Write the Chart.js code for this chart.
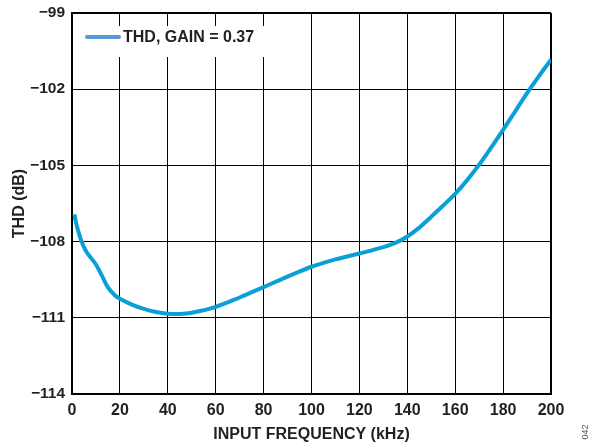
<!DOCTYPE html>
<html>
<head>
<meta charset="utf-8">
<script src="https://cdn.jsdelivr.net/npm/chart.js@4.4.0/dist/chart.umd.min.js"></script>
<style>
html,body{margin:0;padding:0;background:#fff;}
#wrap{width:592px;height:446px;position:relative;}
</style>
</head>
<body>
<div id="wrap"><canvas id="c" width="592" height="446"></canvas></div>
<script>
const freqKHz = [1, 2, 4, 6, 8, 10, 12, 15, 18, 20, 25, 30, 35, 40, 45, 50, 60, 70, 80, 90, 100, 110, 120, 130, 135, 140, 145, 150, 155, 160, 165, 170, 175, 180, 185, 190, 195, 200];
const thdDb = [-106.93, -107.38, -108.0, -108.4, -108.65, -108.9, -109.25, -109.8, -110.12, -110.25, -110.48, -110.65, -110.77, -110.84, -110.85, -110.8, -110.57, -110.2, -109.79, -109.38, -108.99, -108.7, -108.47, -108.22, -108.05, -107.8, -107.45, -107.02, -106.58, -106.12, -105.58, -104.97, -104.3, -103.6, -102.88, -102.15, -101.48, -100.84];
const seriesLabel = 'THD, GAIN = 0.37';
const xTitle = 'INPUT FREQUENCY (kHz)';
const yTitle = 'THD (dB)';
const figureId = '042';

const FONT = '"Liberation Sans", Arial, sans-serif';
const lineColor = '#0B9FD8';
const legendColor = '#5A9BD5';

const legendPlugin = {
  id: 'boxLegend',
  afterDraw(chart) {
    const ctx = chart.ctx;
    const a = chart.chartArea;
    ctx.save();
    ctx.fillStyle = '#fff';
    ctx.fillRect(a.left + 7, a.top + 13, 192, 31);
    ctx.strokeStyle = legendColor;
    ctx.lineWidth = 4;
    ctx.lineCap = 'round';
    ctx.beginPath();
    ctx.moveTo(a.left + 15, a.top + 24);
    ctx.lineTo(a.left + 47, a.top + 24);
    ctx.stroke();
    ctx.fillStyle = '#231f20';
    ctx.font = 'bold 16px ' + FONT;
    ctx.textBaseline = 'middle';
    ctx.textAlign = 'left';
    ctx.fillText(seriesLabel, a.left + 51, a.top + 25);
    ctx.translate(586, 432);
    ctx.rotate(-Math.PI / 2);
    ctx.font = '9px ' + FONT;
    ctx.fillStyle = '#555';
    ctx.textAlign = 'center';
    ctx.textBaseline = 'middle';
    ctx.fillText(figureId, 0, 0);
    ctx.restore();
  }
};

new Chart(document.getElementById('c'), {
  type: 'line',
  data: {
    datasets: [{
      label: seriesLabel,
      data: freqKHz.map((f, i) => ({x: f, y: thdDb[i]})),
      borderColor: lineColor,
      backgroundColor: lineColor,
      borderWidth: 4,
      pointRadius: 0,
      tension: 0.35,
      fill: false
    }]
  },
  options: {
    responsive: false,
    animation: false,
    devicePixelRatio: 1,
    layout: {padding: {top: 13, right: 41, left: 6, bottom: 0}},
    plugins: {legend: {display: false}, tooltip: {enabled: false}},
    scales: {
      x: {
        type: 'linear',
        min: 0, max: 200,
        ticks: {stepSize: 20, color: '#231f20', font: {family: FONT, size: 16, weight: 'bold'}, padding: 7, maxRotation: 0},
        grid: {color: '#000', lineWidth: (c) => (c.tick && c.tick.value === 200 ? 2 : 1), drawTicks: false},
        border: {color: '#000', width: 2},
        title: {display: true, text: xTitle, color: '#231f20', font: {family: FONT, size: 16, weight: 'bold'}, padding: {top: 4, bottom: 2}},
        afterFit(s) { s.height = 52; s.paddingLeft = 0; s.paddingRight = 0; }
      },
      y: {
        min: -114, max: -99,
        ticks: {stepSize: 3, color: '#231f20', font: {family: FONT, size: 15.5, weight: 'bold'}, padding: 7,
          callback: (v) => '\u2212' + Math.abs(v)},
        grid: {color: '#000', lineWidth: (c) => (c.tick && c.tick.value === -99 ? 2 : 1), drawTicks: false},
        border: {color: '#000', width: 2},
        title: {display: true, text: yTitle, color: '#231f20', font: {family: FONT, size: 16, weight: 'bold'}, padding: {top: 4, bottom: 0}},
        afterFit(s) { s.width = 66; s.paddingTop = 0; s.paddingBottom = 0; }
      }
    }
  },
  plugins: [legendPlugin]
});
</script>
</body>
</html>
